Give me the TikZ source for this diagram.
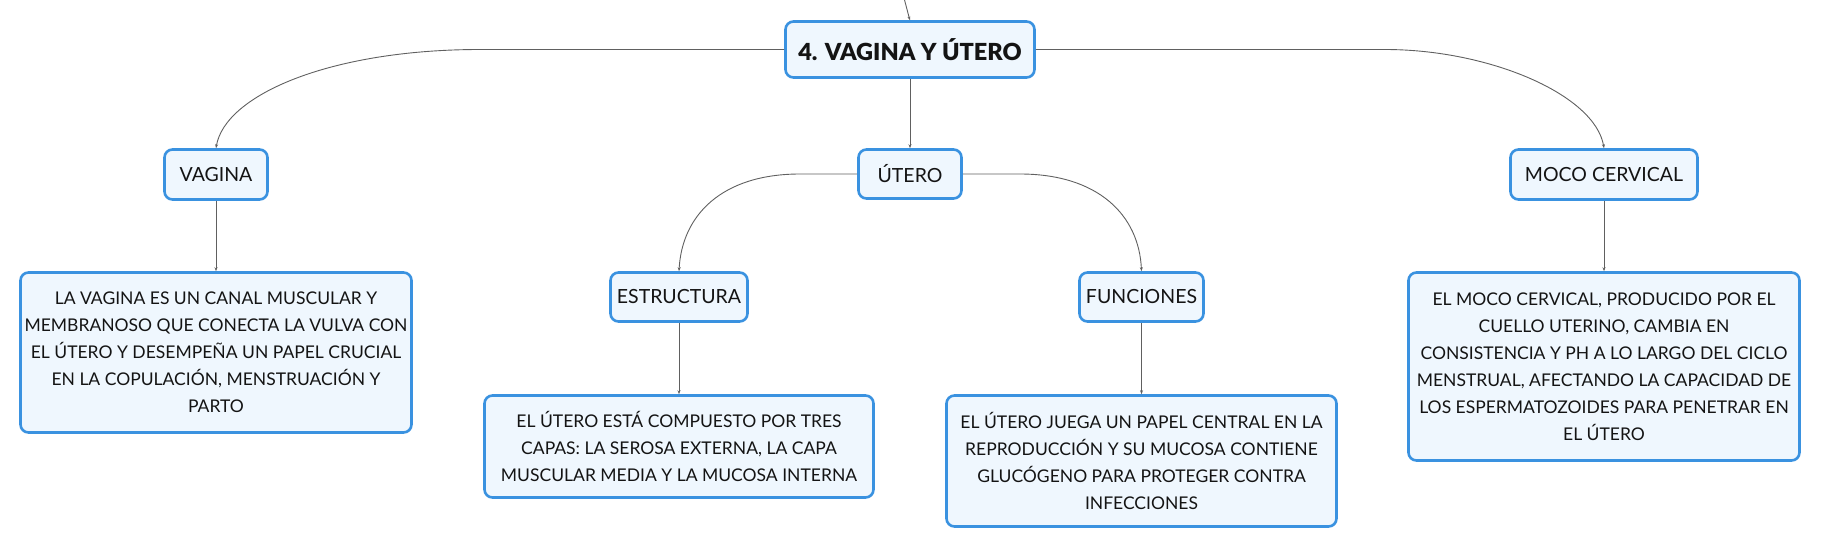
\documentclass[tikz,border=0pt]{standalone}
\usepackage{fontspec}
\setmainfont{Lato}[BoldFont={Lato Black}]
\usetikzlibrary{arrows.meta}
\definecolor{bordblue}{RGB}{58,146,224}
\definecolor{fillblue}{RGB}{239,247,254}
\definecolor{linegray}{RGB}{96,96,96}
\definecolor{txt}{RGB}{20,20,20}
\begin{document}
\begin{tikzpicture}[x=1pt,y=-1pt,
  box/.style={draw=bordblue, line width=2.6pt, fill=fillblue, rounded corners=8pt,
    align=center, inner sep=0pt, text=txt, font=\fontsize{17.5}{27}\selectfont},
  lbl/.style={box, font=\fontsize{19.5}{27}\selectfont},
  conn/.style={draw=linegray, line width=0.9pt, -{Stealth[length=4pt,width=3pt]}}]
\useasboundingbox (0,0) rectangle (1821,549);

\node[box, minimum width=249pt, minimum height=56pt, font=\fontsize{23.5}{27}\selectfont\bfseries] (title) at (910,49.5) {4. VAGINA Y ÚTERO};
\node[lbl, minimum width=103pt, minimum height=49pt] (utero) at (910,174) {ÚTERO};
\node[lbl, minimum width=103pt, minimum height=50pt] (vagina) at (216,174.5) {VAGINA};
\node[lbl, minimum width=187pt, minimum height=50pt] (moco) at (1604,174.5) {MOCO CERVICAL};
\node[lbl, minimum width=137pt, minimum height=49pt] (estr) at (679,297) {ESTRUCTURA};
\node[lbl, minimum width=124pt, minimum height=49pt] (func) at (1141.5,297) {FUNCIONES};

\node[box, minimum width=391pt, minimum height=160pt] (vagd) at (216,352.5)
 {LA VAGINA ES UN CANAL MUSCULAR Y\\MEMBRANOSO QUE CONECTA LA VULVA CON\\EL ÚTERO Y DESEMPEÑA UN PAPEL CRUCIAL\\EN LA COPULACIÓN, MENSTRUACIÓN Y\\PARTO};
\node[box, minimum width=389pt, minimum height=102pt] (estd) at (679,446.5)
 {EL ÚTERO ESTÁ COMPUESTO POR TRES\\CAPAS: LA SEROSA EXTERNA, LA CAPA\\MUSCULAR MEDIA Y LA MUCOSA INTERNA};
\node[box, minimum width=390pt, minimum height=131pt] (fund) at (1141.5,461)
 {EL ÚTERO JUEGA UN PAPEL CENTRAL EN LA\\REPRODUCCIÓN Y SU MUCOSA CONTIENE\\GLUCÓGENO PARA PROTEGER CONTRA\\INFECCIONES};
\node[box, minimum width=391pt, minimum height=188pt] (mocod) at (1604,366.5)
 {EL MOCO CERVICAL, PRODUCIDO POR EL\\CUELLO UTERINO, CAMBIA EN\\CONSISTENCIA Y PH A LO LARGO DEL CICLO\\MENSTRUAL, AFECTANDO LA CAPACIDAD DE\\LOS ESPERMATOZOIDES PARA PENETRAR EN\\EL ÚTERO};

\coordinate (top) at (904,-2);
\draw[conn] (top) .. controls (906,8) .. (title.north);
\draw[conn] (title.west) -- (480,49.5) .. controls (330,49.5) and (225,95) .. (vagina.north);
\draw[conn] (title.east) -- (1385,49.5) .. controls (1490,49.5) and (1595,95) .. (moco.north);
\draw[conn] (title.south) -- (utero.north);
\draw[conn] (utero.west) -- (800,174) .. controls (722,174) and (682,215) .. (estr.north);
\draw[conn] (utero.east) -- (1020,174) .. controls (1098,174) and (1139,215) .. (func.north);
\draw[conn] (vagina.south) -- (vagd.north);
\draw[conn] (estr.south) -- (estd.north);
\draw[conn] (func.south) -- (fund.north);
\draw[conn] (moco.south) -- (mocod.north);
\end{tikzpicture}
\end{document}
